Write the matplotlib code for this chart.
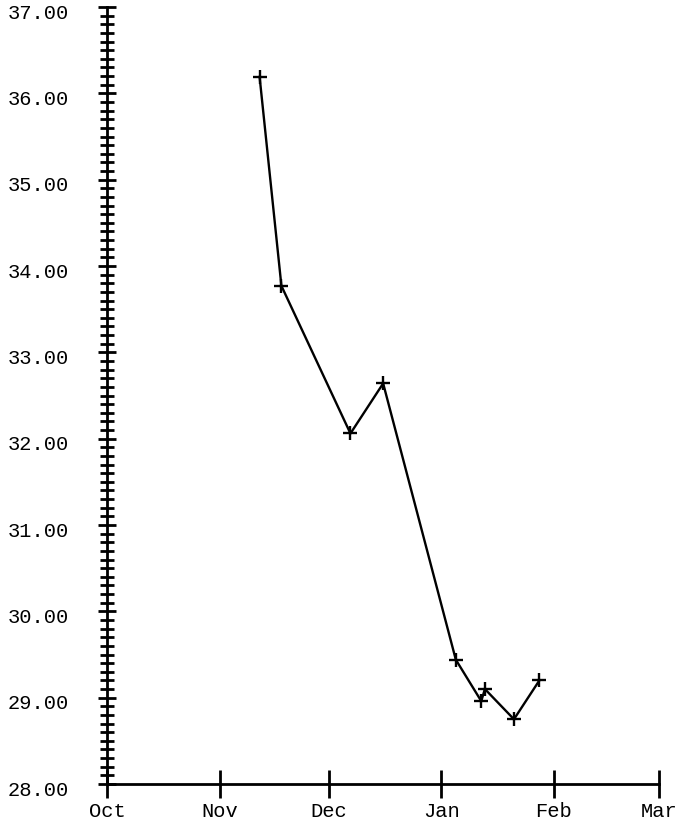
import matplotlib
matplotlib.use('Agg')
import matplotlib.pyplot as plt
import matplotlib.dates as mdates
import matplotlib.transforms as mtransforms
from matplotlib.ticker import MultipleLocator, FormatStrFormatter
from datetime import datetime

# ==================== 数据 ====================
dates = ['2011-11-12', '2011-11-18', '2011-12-07', '2011-12-16', '2012-01-05',
         '2012-01-12', '2012-01-13', '2012-01-21', '2012-01-28']
values = [36.19, 33.77, 32.06, 32.64, 29.44, 28.96, 29.10, 28.75, 29.20]
x_start, x_end = '2011-10-01', '2012-03-01'
y_min, y_max = 28.0, 37.0

plt.rcParams['font.family'] = ['Liberation Mono', 'DejaVu Sans Mono']

x = [datetime.strptime(d, '%Y-%m-%d') for d in dates]

# ==================== 绘图 ====================
fig = plt.figure(figsize=(6.8, 8.24), dpi=100, facecolor='white')
ax = fig.add_axes([107 / 680, 40 / 824, (659.3 - 107) / 680, (784 - 7) / 824])

ax.plot(x, values, color='black', linewidth=1.7, marker='+',
        markersize=9.5, markeredgewidth=1.7, clip_on=False)

ax.set_xlim(datetime.strptime(x_start, '%Y-%m-%d'), datetime.strptime(x_end, '%Y-%m-%d'))
ax.set_ylim(y_min, y_max)

# 坐标轴样式
for side in ['top', 'right']:
    ax.spines[side].set_visible(False)
for side in ['left', 'bottom']:
    ax.spines[side].set_linewidth(2.0)

ax.xaxis.set_major_locator(mdates.MonthLocator())
ax.xaxis.set_major_formatter(mdates.DateFormatter('%b'))
ax.yaxis.set_major_locator(MultipleLocator(1.0))
ax.yaxis.set_minor_locator(MultipleLocator(0.1))
ax.yaxis.set_major_formatter(FormatStrFormatter('%.2f'))

ax.tick_params(axis='x', which='major', direction='inout', length=19.5, width=2.0,
               pad=3.5, labelsize=14.7, colors='black')
ax.tick_params(axis='y', which='major', direction='inout', length=13, width=2.0,
               pad=21, labelsize=14.7, colors='black')
ax.tick_params(axis='y', which='minor', direction='inout', length=10, width=2.0)

# y 刻度标签：顶部对齐刻度线，略向上移
fig.canvas.draw()
shift = mtransforms.ScaledTranslation(0, 2.5 / 72, fig.dpi_scale_trans)
for lab in ax.get_yticklabels():
    lab.set_va('top')
    lab.set_transform(lab.get_transform() + shift)

plt.savefig('out.png', dpi=100, facecolor='white')
